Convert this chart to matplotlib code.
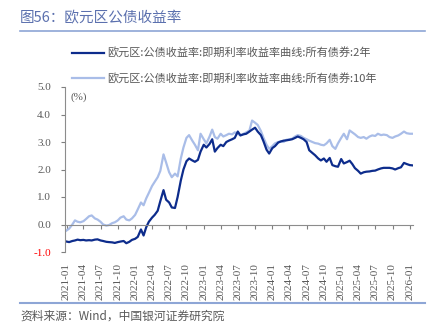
import pandas as pd
import matplotlib
matplotlib.use("Agg")
import matplotlib.pyplot as plt
import matplotlib.dates as mdates
from matplotlib.lines import Line2D

plt.rcParams['font.family'] = ['Noto Sans CJK SC', 'DejaVu Sans']

# 半月频数据, 2021-01 ~ 2026-01
dates = pd.date_range("2021-01-01", periods=122, freq="SMS")

# 2年期
y2 = [-0.62, -0.64, -0.60, -0.58, -0.55, -0.57, -0.56, -0.58, -0.57, -0.58,
      -0.55, -0.54, -0.58, -0.60, -0.63, -0.64, -0.65, -0.67, -0.64, -0.62,
      -0.60, -0.68, -0.63, -0.56, -0.52, -0.45, -0.18, -0.40, -0.10, 0.10,
      0.25, 0.35, 0.50, 0.85, 1.25, 0.90, 0.80, 0.62, 0.60, 1.00,
      1.60, 2.00, 2.30, 2.40, 2.33, 2.28, 2.35, 2.65, 2.90, 2.80,
      2.93, 3.10, 2.65, 2.78, 2.90, 2.85, 3.00, 3.05, 3.10, 3.15,
      3.38, 3.24, 3.28, 3.30, 3.38, 3.45, 3.52, 3.38, 3.25, 3.02,
      2.72, 2.58, 2.78, 2.85, 2.98, 3.02, 3.05, 3.06, 3.08, 3.10,
      3.15, 3.20, 3.15, 3.10, 3.00, 2.70, 2.60, 2.52, 2.40, 2.33,
      2.40, 2.28, 2.42, 2.16, 2.12, 2.10, 2.38, 2.22, 2.27, 2.32,
      2.20, 2.05, 1.95, 1.85, 1.90, 1.92, 1.93, 1.95, 1.96, 2.00,
      2.04, 2.06, 2.06, 2.06, 2.04, 2.00, 2.05, 2.08, 2.24, 2.20,
      2.16, 2.15]

# 10年期
y10 = [-0.22, -0.15, 0.00, 0.15, 0.10, 0.08, 0.12, 0.20, 0.30, 0.33,
       0.22, 0.18, 0.10, 0.00, -0.04, -0.02, 0.05, 0.08, 0.15, 0.25,
       0.30, 0.18, 0.15, 0.22, 0.35, 0.55, 0.80, 0.70, 0.95, 1.15,
       1.40, 1.55, 1.72, 1.95, 2.55, 2.25, 1.90, 1.72, 1.85, 1.75,
       2.40, 2.80, 3.15, 3.25, 3.05, 2.90, 2.70, 3.30, 3.10, 2.95,
       3.20, 3.45, 3.18, 3.12, 3.30, 3.20, 3.25, 3.30, 3.28, 3.35,
       3.30, 3.24, 3.30, 3.35, 3.42, 3.78, 3.70, 3.62, 3.40, 3.15,
       2.90, 2.75, 2.85, 2.95, 3.00, 3.02, 3.00, 3.08, 3.10, 3.12,
       3.20, 3.25, 3.22, 3.15, 3.10, 3.05, 3.00, 2.96, 2.94, 2.90,
       2.88, 2.95, 3.08, 2.85, 2.75, 2.95, 3.15, 3.30, 3.10, 3.42,
       3.35, 3.28, 3.18, 3.15, 3.18, 3.12, 3.20, 3.24, 3.22, 3.30,
       3.25, 3.27, 3.25, 3.18, 3.15, 3.20, 3.24, 3.30, 3.38, 3.32,
       3.30, 3.30]

yticks = [-1.0, 0.0, 1.0, 2.0, 3.0, 4.0, 5.0]
xtick_dates = pd.date_range("2021-01-01", "2026-01-01", freq="QS")

label2 = "欧元区:公债收益率:即期利率收益率曲线:所有债券:2年"
label10 = "欧元区:公债收益率:即期利率收益率曲线:所有债券:10年"

dark = "#0d2c8c"
light = "#a9bde8"
gray = "#595959"
rule = "#8ea6d6"
serif = ["Liberation Serif", "DejaVu Serif"]

fig = plt.figure(figsize=(4.42, 3.26), dpi=100)
ax = fig.add_axes([65 / 442, 1 - 252 / 326, 348 / 442, 165 / 326])

ax.plot(dates, y10, color=light, lw=1.6, label=label10)
ax.plot(dates, y2, color=dark, lw=1.6, label=label2)

ax.set_ylim(-1.0, 5.0)
ax.set_xlim(pd.Timestamp("2020-12-24"), pd.Timestamp("2026-01-18"))
ax.set_yticks(yticks)
ax.set_yticklabels([f"{v:.1f}" for v in yticks], fontfamily=serif, fontsize=8, color=gray)
ax.get_yticklabels()[0].set_color("#ff0000")
ax.tick_params(axis="y", length=3, pad=7, color="#7f7f7f")

ax.set_xticks(xtick_dates)
ax.xaxis.set_major_formatter(mdates.DateFormatter("%Y-%m"))
ax.tick_params(axis="x", length=3, pad=25, color="#7f7f7f", labelsize=8,
               labelcolor=gray, labelrotation=90, labelfontfamily=serif)

ax.spines["top"].set_visible(False)
ax.spines["right"].set_visible(False)
ax.spines["bottom"].set_position(("data", 0))
ax.spines["bottom"].set_color("#8c8c8c")
ax.spines["left"].set_color("#8c8c8c")

ax.text(0.015, 0.94, "(%)", transform=ax.transAxes, fontsize=8,
        fontfamily=serif, color=gray, va="center", ha="left")

# 图例
handles = [Line2D([], [], color=dark, lw=1.6), Line2D([], [], color=light, lw=1.6)]
fig.legend(handles, [label2, label10], loc="center left",
           bbox_to_anchor=(72 / 442, 1 - 66 / 326), frameon=False, fontsize=8,
           handlelength=2.9, handletextpad=0.3, labelspacing=1.3,
           borderpad=0, borderaxespad=0, labelcolor=gray)

# 标题和来源
fig.text(20 / 442, 1 - 18 / 326, "图56：欧元区公债收益率", fontsize=10.5,
         color="#5b70ae", va="center", ha="left")
fig.add_artist(Line2D([20 / 442, 425 / 442], [1 - 30.5 / 326] * 2, color=rule, lw=1.2))
fig.add_artist(Line2D([20 / 442, 425 / 442], [1 - 303 / 326] * 2, color=rule, lw=1.5))
fig.text(20 / 442, 1 - 316 / 326, "资料来源：Wind，中国银河证券研究院", fontsize=8.5,
         color=gray, va="center", ha="left", style="italic")

fig.savefig("out.png", dpi=100)
